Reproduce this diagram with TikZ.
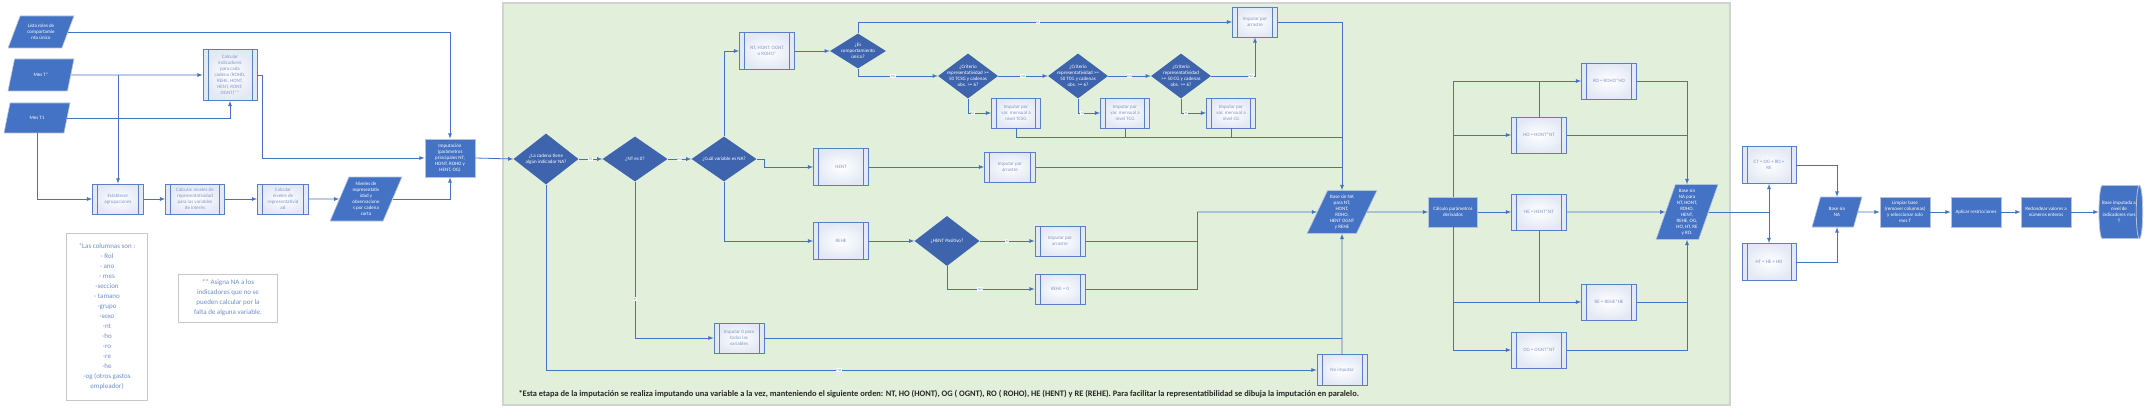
\documentclass[tikz,border=0pt]{standalone}
\usepackage{fontspec}
\setmainfont{Carlito}
\usepackage{tikz}
\usetikzlibrary{arrows, shapes.geometric, calc}

\definecolor{lineblue}{HTML}{4472C4}
\definecolor{darkblue}{HTML}{3E64AE}
\definecolor{boxedge}{HTML}{5A7FC9}
\definecolor{boxtext}{HTML}{7F96CC}
\definecolor{boxshade}{HTML}{E2E8F4}
\definecolor{filledge}{HTML}{B4C2DE}
\definecolor{greenbg}{HTML}{E2EFDA}
\definecolor{framegray}{HTML}{D2D2D2}
\definecolor{notegray}{HTML}{C8C8C8}
\definecolor{notetext}{HTML}{6F8ED0}
\definecolor{notedark}{HTML}{262626}

\newcommand{\chartfont}{\fontsize{5}{6}\selectfont}
\newcommand{\notefont}{\fontsize{7}{10}\selectfont}
\newcommand{\lblfont}{\fontsize{4.5}{5}\selectfont}

\begin{document}
\begin{tikzpicture}[x=1pt, y=-1pt, >=latex,
    flow/.style={draw=lineblue, line width=0.8pt},
    subproc/.style={rectangle, draw=boxedge, line width=0.8pt, inner color=white, outer color=boxshade,
        text=boxtext, font=\chartfont, align=center, inner sep=1pt, minimum width=50pt, minimum height=30pt,
        path picture={\draw[boxedge, line width=0.8pt]
            ([xshift=5pt]path picture bounding box.north west) -- ([xshift=5pt]path picture bounding box.south west)
            ([xshift=-5pt]path picture bounding box.north east) -- ([xshift=-5pt]path picture bounding box.south east);}},
    process/.style={rectangle, fill=lineblue, draw=filledge, line width=0.8pt, text=white, font=\chartfont,
        align=center, inner sep=1pt, minimum width=50pt, minimum height=30pt},
    dataio/.style={trapezium, trapezium left angle=63, trapezium right angle=117, trapezium stretches=true,
        fill=lineblue, draw=filledge, line width=0.6pt, text=white, font=\chartfont, align=center, inner sep=0pt},
    decision/.style={diamond, fill=darkblue, text=white, font=\chartfont, align=center, inner sep=-5pt},
    storage/.style={cylinder, shape aspect=0.3, fill=lineblue, draw=filledge, line width=0.8pt, text=white,
        font=\chartfont, align=center, inner sep=0pt},
    note/.style={rectangle, draw=notegray, line width=0.8pt, fill=white, text=notetext, font=\notefont,
        align=center, inner sep=1pt},
    lbl/.style={fill=white, text=boxtext, font=\lblfont, inner sep=0.6pt}]

    \useasboundingbox (0,0) rectangle (2151,409);
    \fill[white] (0,0) rectangle (2151,409);
    \draw[draw=framegray, line width=1.2pt, fill=greenbg] (503,3) rectangle (1730,405);

    \node[dataio, minimum width=66pt, minimum height=32pt] (lista) at (41,32) {Lista roles de\\comportamie\\nto único};
    \node[dataio, minimum width=66pt, minimum height=32pt] (mest) at (41,75) {Mes T*};
    \node[dataio, minimum width=66pt, minimum height=30pt] (mest1) at (37,118) {Mes T1};
    \node[subproc, minimum width=54pt, minimum height=51pt] (calcind) at (230,75) {Calcular\\indicadores\\para cada\\cadena (ROHO,\\REHE, HONT,\\HENT, RONT,\\OGNT)**};
    \node[subproc, minimum width=51pt] (estab) at (118,199) {Establecer\\agrupaciones};
    \node[subproc, minimum width=59pt] (calcrep) at (195,199) {Calcular niveles de\\representatividad\\para las variables\\de interés};
    \node[subproc, minimum width=51pt] (calcniv) at (283,199) {Calcular\\niveles de\\representativid\\ad};
    \node[dataio, trapezium left angle=66, trapezium right angle=114, minimum width=72pt, minimum height=44pt] (nivobs) at (366,199) {Niveles de\\representativ\\idad y\\observacione\\s por cadena\\corta};
    \node[process, minimum width=50pt, minimum height=38pt] (imp) at (450,158) {Imputación\\(parámetros\\principales NT,\\HONT, ROHO y\\HENT, OG)};

    \node[note, minimum width=81pt, minimum height=167pt] (cols) at (107,317) {*Las columnas son :\\- Rol\\- ano\\- mes\\-seccion\\- tamano\\-grupo\\-sexo\\-nt\\-ho\\-ro\\-re\\-he\\-og (otros gastos\\empleador)};
    \node[note, minimum width=99pt, minimum height=48pt] (asig) at (228,298) {** Asigna NA a los\\indicadores que no se\\pueden calcular por la\\falta de alguna variable.};

    \node[decision, minimum width=65pt, minimum height=51pt] (d1) at (546,159) {¿La cadena tiene\\algún indicador NA?};
    \node[decision, minimum width=65pt, minimum height=45pt] (d2) at (635,159) {¿NT es 0?};
    \node[decision, minimum width=65pt, minimum height=45pt] (d3) at (724,159) {¿Cuál variable es NA?};
    \node[subproc, minimum width=55pt, minimum height=37pt] (sel) at (767,51) {NT, HONT, OGNT\\o ROHO*};
    \node[subproc, minimum width=55pt, minimum height=37pt] (hent) at (841,167) {HENT};
    \node[subproc, minimum width=55pt, minimum height=37pt] (rehe) at (841,241) {REHE};
    \node[subproc] (imp0) at (739,338) {Imputar 0 para\\todas las\\variables};
    \node[decision, minimum width=56pt, minimum height=35pt] (es) at (858,51) {¿Es\\comportamiento\\único?};
    \node[decision, minimum width=60pt, minimum height=45pt] (tcsg) at (968,76) {¿Criterio\\representatividad >=\\50 TCSG y cadenas\\obs. >= 6?};
    \node[decision, minimum width=60pt, minimum height=45pt] (tcg) at (1078,76) {¿Criterio\\representatividad >=\\50 TCG y cadenas\\obs. >= 6?};
    \node[decision, minimum width=60pt, minimum height=45pt] (cg) at (1181,76) {¿Criterio\\representatividad\\>= 50 CG y cadenas\\obs. >= 6?};
    \node[subproc, minimum width=45pt] (arr1) at (1255,22) {Imputar por\\arrastre};
    \node[subproc, minimum width=49pt] (tcsgbox) at (1016,113) {Imputar por\\var. mensual a\\nivel TCSG};
    \node[subproc, minimum width=49pt] (tcgbox) at (1125,113) {Imputar por\\var. mensual a\\nivel TCG};
    \node[subproc, minimum width=49pt] (cgbox) at (1231,113) {Imputar por\\var. mensual a\\nivel CG};
    \node[subproc, minimum width=51pt] (arr2) at (1010,167) {Imputar por\\arrastre};
    \node[decision, minimum width=65pt, minimum height=50pt] (hpos) at (947,241) {¿HENT Positivo?};
    \node[subproc] (arr3) at (1060,241) {Imputar por\\arrastre};
    \node[subproc] (rehe0) at (1060,289) {REHE = 0};
    \node[subproc, minimum height=31pt] (noimp) at (1342,370) {No imputar};
    \node[dataio, minimum width=70pt, minimum height=43pt] (bsna) at (1342,212) {Base sin NA\\para NT,\\HONT,\\ROHO,\\HENT OGNT\\y REHE};

    \node[process, minimum width=49pt] (calcder) at (1453,212) {Cálculo parámetros\\derivados};
    \node[subproc, minimum width=55pt, minimum height=36pt] (ro) at (1609,81) {RO = ROHO*HO};
    \node[subproc, minimum width=55pt, minimum height=36pt] (ho) at (1539,135) {HO = HONT*NT};
    \node[subproc, minimum width=55pt, minimum height=36pt] (he) at (1539,212) {HE = HENT*NT};
    \node[subproc, minimum width=55pt, minimum height=36pt] (re) at (1609,302) {RE = REHE*HE};
    \node[subproc, minimum width=55pt, minimum height=36pt] (og) at (1539,350) {OG = OGNT*NT};
    \node[dataio, trapezium left angle=69, trapezium right angle=111, minimum width=62pt, minimum height=55pt] (bsna2) at (1687,212) {Base sin\\NA para\\NT, HONT,\\ROHO,\\HENT,\\REHE, OG,\\HO, HT, RE\\y RO.};
    \node[subproc, minimum width=54pt, minimum height=37pt] (ct) at (1769,165) {CT = OG + RO +\\RE};
    \node[subproc, minimum width=54pt, minimum height=37pt] (ht) at (1769,262) {HT = HE + HO};
    \node[dataio, trapezium left angle=66, trapezium right angle=114, minimum width=50pt, minimum height=30pt] (bsna3) at (1837,212) {Base sin\\NA};
    \node[process] (limp) at (1905,212) {Limpiar base\\(remover columnas)\\y seleccionar solo\\mes T};
    \node[process] (aplic) at (1976,212) {Aplicar restricciones};
    \node[process] (redon) at (2046,212) {Redondear valores a\\números enteros};
    \node[storage, minimum width=53pt, minimum height=30pt] (final) at (2119,212) {Base imputada a\\nivel de\\indicadores mes\\T};

    \node[anchor=west, font=\bfseries\fontsize{8.4}{9}\selectfont, text=notedark] (foot) at (515,394) {*Esta etapa de la imputación se realiza imputando una variable a la vez, manteniendo el siguiente orden: NT, HO (HONT), OG ( OGNT), RO ( ROHO), HE (HENT) y RE (REHE). Para facilitar la representatibilidad se dibuja la imputación en paralelo.};

    \draw[flow,->] (lista.east) -| (imp.north);
    \draw[flow,->] (mest.east) -- (calcind.west);
    \draw[flow,->] (mest.east -| estab.north) -- (estab.north);
    \draw[flow,->] (mest1.east) -| (calcind.south);
    \draw[flow,->] (mest1.south) |- (estab.west);
    \draw[flow,->] (calcind.east) -- ++(5,0) |- (imp.west);
    \draw[flow,->] (estab) -- (calcrep);
    \draw[flow,->] (calcrep) -- (calcniv);
    \draw[flow,->] (calcniv) -- (nivobs);
    \draw[flow,->] (nivobs.east) -| (imp.south);
    \draw[flow,->] (imp.east) -- (d1.west);

    \draw[flow,->] (d1) -- node[lbl] {Sí} (d2);
    \draw[flow,->] (d2) -- node[lbl] {no} (d3);
    \draw[flow,->] (d3.north) |- (sel.west);
    \draw[flow,->] (d3.east) -- ++(8,0) |- (hent.west);
    \draw[flow,->] (d3.south) |- (rehe.west);
    \draw[flow,->] (d2.south) |- node[lbl, pos=0.375] {sí} (imp0.west);
    \draw[flow,->] (d1.south) |- node[lbl, pos=0.69] {no} (noimp.west);
    \draw[flow,->] (sel) -- (es);
    \draw[flow,->] (es.north) |- node[lbl, pos=0.74] {sí} (arr1.west);
    \draw[flow,->] (es.south) |- node[lbl, pos=0.72] {no} (tcsg.west);
    \draw[flow,->] (tcsg.south) |- node[lbl, pos=0.6] {sí} (tcsgbox.west);
    \draw[flow,->] (tcsg) -- node[lbl] {no} (tcg);
    \draw[flow,->] (tcg.south) |- node[lbl, pos=0.6] {sí} (tcgbox.west);
    \draw[flow,->] (tcg) -- node[lbl] {no} (cg);
    \draw[flow,->] (cg.south) |- node[lbl, pos=0.6] {sí} (cgbox.west);
    \draw[flow,->] (cg.east) -| node[lbl, pos=0.45] {no} (arr1.south);
    \draw[flow,->] (hent) -- (arr2);
    \draw[flow,->] (rehe) -- (hpos);
    \draw[flow,->] (hpos) -- node[lbl] {sí} (arr3);
    \draw[flow,->] (hpos.south) |- node[lbl, pos=0.69] {no} (rehe0.west);

    \draw[flow,->] (arr1.east) -| (bsna.north);
    \coordinate (jrow) at ($(tcsgbox.south)+(0,9)$);
    \draw[flow] (tcsgbox.south) |- (jrow -| bsna.north);
    \draw[flow] (tcgbox.south) -- (tcgbox.south |- jrow);
    \draw[flow] (cgbox.south) -- (cgbox.south |- jrow);
    \draw[flow] (arr2.east) -- (arr2.east -| bsna.north);
    \coordinate (jrehe) at (1197,212);
    \draw[flow,->] (jrehe) -- (bsna.west);
    \draw[flow] (arr3.east) -| (jrehe);
    \draw[flow] (rehe0.east) -| (jrehe);
    \draw[flow,->] (noimp.north) -- (bsna.south);
    \draw[flow] (imp0.east) -- (imp0.east -| noimp.north);

    \draw[flow,->] (bsna) -- (calcder);
    \draw[flow,->] (calcder.north) |- (ro.west);
    \draw[flow,->] (calcder.north |- ho.west) -- (ho.west);
    \draw[flow,->] (calcder) -- (he);
    \draw[flow,->] (calcder.south) |- (og.west);
    \draw[flow,->] (calcder.south |- re.west) -- (re.west);
    \draw[flow] (ho.north) -- (ho.north |- ro.west);
    \draw[flow] (he.south) -- (he.south |- re.west);
    \draw[flow,->] (ro.east) -| (bsna2.north);
    \draw[flow] (ho.east) -- (ho.east -| bsna2.north);
    \draw[flow,->] (he) -- (bsna2);
    \draw[flow,->] (og.east) -| (bsna2.south);
    \draw[flow] (re.east) -- (re.east -| bsna2.south);
    \coordinate (jsplit) at (ct.south |- bsna2.east);
    \draw[flow] (bsna2.east) -- (jsplit);
    \draw[flow,->] (jsplit) -- (ct.south);
    \draw[flow,->] (jsplit) -- (ht.north);
    \draw[flow,->] (ct.east) -| (bsna3.north);
    \draw[flow,->] (ht.east) -| (bsna3.south);
    \draw[flow,->] (bsna3) -- (limp);
    \draw[flow,->] (limp) -- (aplic);
    \draw[flow,->] (aplic) -- (redon);
    \draw[flow,->] (redon) -- (final);
\end{tikzpicture}
\end{document}
